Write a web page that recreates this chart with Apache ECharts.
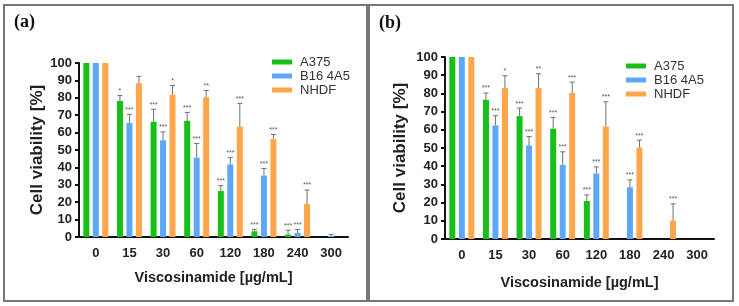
<!DOCTYPE html>
<html>
<head>
<meta charset="utf-8">
<script src="https://cdn.jsdelivr.net/npm/echarts@6/dist/echarts.min.js"></script>
<style>
  html, body { margin: 0; padding: 0; background: #fff; }
  #chart { width: 739px; height: 306px; }
</style>
</head>
<body>
<div id="chart"></div>
<script>
// doses on the x axis
const doses = ['0', '15', '30', '60', '120', '180', '240', '300'];
const seriesNames = ['A375', 'B16 4A5', 'NHDF'];

// panel (a)
const a375A = [100, 78.2, 66.2, 66.8, 26.4, 3.3, 1.4, 0];
const b16A = [100, 65.6, 55.6, 45.6, 41.7, 35.3, 2.3, 0.6];
const nhdfA = [100, 88.4, 81.7, 80.3, 63.5, 56.2, 18.9, 0];
const a375ErrA = [0, 3.1, 7.2, 4.8, 3.1, 1.1, 2.5, 0];
const b16ErrA = [0, 4.9, 4.8, 8.1, 3.9, 4.1, 2.1, 0.9];
const nhdfErrA = [0, 3.9, 5.4, 3.9, 13.3, 2.7, 8.1, 0];
const a375StarsA = ['', '*', '***', '***', '***', '***', '***', ''];
const b16StarsA = ['', '***', '***', '***', '***', '***', '***', ''];
const nhdfStarsA = ['', '', '*', '**', '***', '***', '***', ''];

// panel (b)
const a375B = [100, 76.5, 67.5, 60.6, 20.9, 0, 0, 0];
const b16B = [100, 62.4, 51.4, 40.7, 36.0, 28.4, 0, 0];
const nhdfB = [100, 82.9, 82.9, 80.2, 61.8, 50.3, 10.1, 0];
const a375ErrB = [0, 3.7, 4.4, 6.2, 3.3, 0, 0, 0];
const b16ErrB = [0, 5.3, 4.9, 7.2, 3.6, 4.1, 0, 0];
const nhdfErrB = [0, 6.8, 7.9, 6.0, 13.6, 4.0, 9.2, 0];
const a375StarsB = ['', '***', '***', '***', '***', '', '', ''];
const b16StarsB = ['', '***', '***', '***', '***', '***', '', ''];
const nhdfStarsB = ['', '*', '**', '***', '***', '***', '***', ''];

const colors = ['#19BF19', '#5CA8F7', '#FFA54A'];
const offsets = [-9.5, 0, 9.5];

const chart = echarts.init(document.getElementById('chart'));

function errRender(offset, stars) {
  return function (params, api) {
    const x = api.value(0), v = api.value(1), e = api.value(2);
    const base = api.coord([x, v]);
    const top = api.coord([x, v + e]);
    const cx = base[0] + offset;
    const children = [];
    if (e > 0) {
      children.push({ type: 'line', shape: { x1: cx, y1: base[1], x2: cx, y2: top[1] },
        style: { stroke: '#707070', lineWidth: 1 } });
      children.push({ type: 'line', shape: { x1: cx - 2.5, y1: top[1], x2: cx + 2.5, y2: top[1] },
        style: { stroke: '#707070', lineWidth: 1 } });
    }
    const s = stars[params.dataIndex];
    if (s) {
      children.push({ type: 'text', x: cx, y: top[1] - 1,
        style: { text: s, fill: '#555', font: '7px "Liberation Sans"', align: 'center', verticalAlign: 'bottom' } });
    }
    return { type: 'group', children: children };
  };
}

function panelSeries(idx, vals, errs, stars) {
  const out = [];
  vals.forEach(function (v, k) {
    out.push({
      name: seriesNames[k], type: 'bar', xAxisIndex: idx, yAxisIndex: idx,
      data: v, barWidth: 6, barGap: '58%', itemStyle: { color: colors[k] },
      emphasis: { disabled: true }
    });
  });
  vals.forEach(function (v, k) {
    out.push({
      type: 'custom', xAxisIndex: idx, yAxisIndex: idx, z: 5,
      renderItem: errRender(offsets[k], stars[k]),
      data: v.map(function (y, i) { return [i, y, errs[k][i]]; })
    });
  });
  return out;
}

function xAxis(idx, gap) {
  return {
    type: 'category', gridIndex: idx, data: doses,
    axisLine: { lineStyle: { color: '#111', width: 2 } },
    axisTick: { alignWithLabel: true, length: 5, lineStyle: { width: 2, color: '#111' } },
    axisLabel: { fontSize: 13, fontWeight: 'bold', color: '#222', margin: 10, fontFamily: 'Liberation Sans' },
    name: 'Viscosinamide [µg/mL]', nameLocation: 'middle', nameGap: gap,
    nameTextStyle: { fontSize: 14.5, fontWeight: 'bold', color: '#222', fontFamily: 'Liberation Sans' }
  };
}

function yAxis(idx, gap) {
  return {
    type: 'value', gridIndex: idx, min: 0, max: 100, interval: 10,
    splitLine: { show: false },
    axisLine: { show: true, lineStyle: { color: '#111', width: 2 } },
    axisTick: { show: true, length: 4, lineStyle: { width: 2, color: '#111' } },
    axisLabel: { fontSize: 13, fontWeight: 'bold', color: '#222', margin: 7, fontFamily: 'Liberation Sans' },
    name: 'Cell viability [%]', nameLocation: 'middle', nameGap: gap,
    nameTextStyle: { fontSize: 17, fontWeight: 'bold', color: '#222', fontFamily: 'Liberation Sans' }
  };
}

function legend(left, top) {
  return {
    orient: 'vertical', left: left, top: top, padding: 0, itemWidth: 20, itemHeight: 5, itemGap: 0,
    icon: 'rect', data: seriesNames, selectedMode: false,
    textStyle: { fontSize: 13, lineHeight: 14, color: '#333', fontFamily: 'Liberation Sans', padding: [0, 0, 0, 3] }
  };
}

const option = {
  animation: false,
  grid: [
    { left: 79, top: 63, width: 269, height: 174 },
    { left: 445, top: 57, width: 269, height: 182 }
  ],
  xAxis: [xAxis(0, 33), xAxis(1, 36)],
  yAxis: [yAxis(0, 33), yAxis(1, 36)],
  legend: [legend(272, 55), legend(626, 59)],
  graphic: [
    { type: 'rect', shape: { x: 4, y: 5, width: 363, height: 296 }, style: { fill: 'none', stroke: '#777', lineWidth: 2 } },
    { type: 'rect', shape: { x: 369, y: 5, width: 364, height: 296 }, style: { fill: 'none', stroke: '#777', lineWidth: 2 } },
    { type: 'text', left: 14, top: 13, style: { text: '(a)', font: 'bold 18px "Liberation Serif"', fill: '#111' } },
    { type: 'text', left: 379, top: 14, style: { text: '(b)', font: 'bold 18px "Liberation Serif"', fill: '#111' } }
  ],
  series: [].concat(
    panelSeries(0, [a375A, b16A, nhdfA], [a375ErrA, b16ErrA, nhdfErrA], [a375StarsA, b16StarsA, nhdfStarsA]),
    panelSeries(1, [a375B, b16B, nhdfB], [a375ErrB, b16ErrB, nhdfErrB], [a375StarsB, b16StarsB, nhdfStarsB])
  )
};

chart.setOption(option);
</script>
</body>
</html>
